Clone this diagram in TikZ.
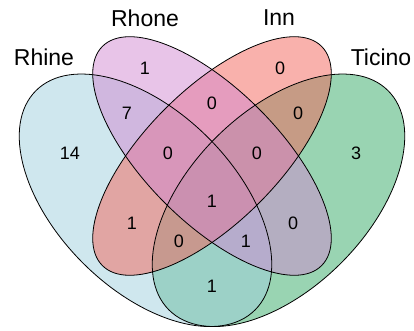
\documentclass[tikz,border=0pt]{standalone}
\usepackage{fontspec}
\setmainfont{Liberation Sans}
\usetikzlibrary{positioning}

\definecolor{rhinefill}{RGB}{159,207,221}
\definecolor{rhonefill}{RGB}{209,137,209}
\definecolor{innfill}{RGB}{243,99,89}
\definecolor{ticinofill}{RGB}{51,169,101}

\begin{document}
\begin{tikzpicture}[
  x=1pt, y=1pt,
  set/.style={fill opacity=0.5},
  rim/.style={draw=black, line width=0.8pt},
  cnt/.style={font=\fontsize{18}{20}\selectfont, inner sep=0pt},
  setname/.style={font=\fontsize{23}{26}\selectfont, inner sep=0pt}
]
\useasboundingbox (0,0) rectangle (414,331);

% ellipse centres
\coordinate (rhineC) at (145.5,130.7);
\coordinate (ticinoC) at (278.5,130.7);
\coordinate (innerC) at (212,175);

% fills
\fill[ticinofill, set, rotate around={45:(ticinoC)}] (ticinoC) ellipse [x radius=155pt, y radius=88.6pt];
\fill[rhinefill, set, rotate around={-45:(rhineC)}] (rhineC) ellipse [x radius=155pt, y radius=88.6pt];
\fill[innfill, set, rotate around={45:(innerC)}] (innerC) ellipse [x radius=155pt, y radius=66.5pt];
\fill[rhonefill, set, rotate around={-45:(innerC)}] (innerC) ellipse [x radius=155pt, y radius=66.5pt];

% outlines
\draw[rim, rotate around={45:(ticinoC)}] (ticinoC) ellipse [x radius=155pt, y radius=88.6pt];
\draw[rim, rotate around={-45:(rhineC)}] (rhineC) ellipse [x radius=155pt, y radius=88.6pt];
\draw[rim, rotate around={45:(innerC)}] (innerC) ellipse [x radius=155pt, y radius=66.5pt];
\draw[rim, rotate around={-45:(innerC)}] (innerC) ellipse [x radius=155pt, y radius=66.5pt];

% set names
\node[setname] (rhine) at (44,274) {Rhine};
\node[setname] (rhone) at (145,313) {Rhone};
\node[setname] (inn) at (279,313) {Inn};
\node[setname] (ticino) at (381,274) {Ticino};

% counts
\node[cnt] (rhoneOnly) at (145,263) {1};
\node[cnt] (innOnly) at (280,263) {0};
\node[cnt] (rhineRhone) at (127,218) {7};
\node[cnt] (rhoneInn) at (212,228) {0};
\node[cnt] (innTicino) at (298,218) {0};
\node[cnt] (rhineOnly) at (70,178) {14};
\node[cnt] (rhineRhoneInn) at (168,178) {0};
\node[cnt] (rhoneInnTicino) at (257,178) {0};
\node[cnt] (ticinoOnly) at (356,178) {3};
\node[cnt] (allFour) at (212,130) {1};
\node[cnt] (rhineInn) at (132,108) {1};
\node[cnt] (rhoneTicino) at (293,108) {0};
\node[cnt] (rhineInnTicino) at (179,90) {0};
\node[cnt] (rhineRhoneTicino) at (246,90) {1};
\node[cnt] (rhineTicino) at (212,45) {1};
\end{tikzpicture}
\end{document}
